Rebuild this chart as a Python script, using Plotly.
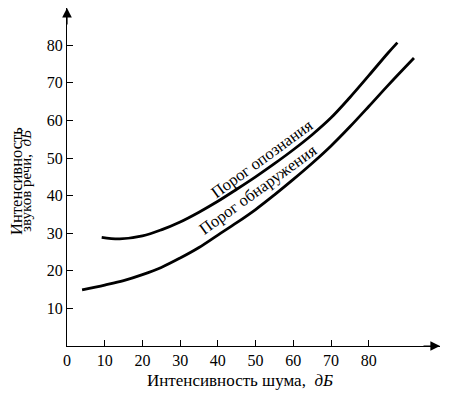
import plotly.graph_objects as go

# Data
upper_x = [9.2, 14, 20, 25, 30, 35, 40, 45, 50, 55, 60, 65, 70, 75, 80, 85, 87.6]
upper_y = [28.9, 28.5, 29.3, 30.9, 33.0, 35.6, 38.5, 41.7, 45.0, 48.5, 52.2, 56.2, 60.7, 66.1, 71.9, 77.8, 80.7]
lower_x = [4, 10, 15, 20, 25, 30, 35, 40, 45, 50, 55, 60, 65, 70, 75, 80, 85, 92]
lower_y = [14.9, 16.2, 17.4, 19.0, 20.9, 23.4, 26.2, 29.5, 32.8, 36.3, 40.2, 44.3, 48.6, 53.2, 58.3, 63.7, 69.2, 76.6]
x_ticks = [0, 10, 20, 30, 40, 50, 60, 70, 80]
y_ticks = [10, 20, 30, 40, 50, 60, 70, 80]
upper_label = "Порог опознания"
lower_label = "Порог обнаружения"
x_title = "Интенсивность шума,  <i>дБ</i>"
y_title_1 = "Интенсивность"
y_title_2 = "звуков речи,  <i>дБ</i>"

FONT = "Liberation Serif"
XMAX, YMAX = 98.9, 89.9

fig = go.Figure()
for xs, ys in ((upper_x, upper_y), (lower_x, lower_y)):
    fig.add_trace(go.Scatter(x=xs, y=ys, mode="lines",
                             line=dict(color="black", width=2.8, shape="spline", smoothing=1.0),
                             showlegend=False, hoverinfo="skip"))

axis_common = dict(ticks="inside", ticklen=6, tickwidth=1, tickcolor="black",
                   showline=True, linecolor="black", linewidth=1.2, showgrid=False, zeroline=False,
                   tickfont=dict(family=FONT, size=16), automargin=False)

fig.update_layout(
    width=441, height=390,
    margin=dict(l=59, r=9, t=0, b=52),
    paper_bgcolor="white", plot_bgcolor="white",
    font=dict(family=FONT, size=16, color="black"),
    xaxis=dict(range=[0, XMAX], tickvals=x_ticks, ticktext=[str(v) for v in x_ticks], **axis_common),
    yaxis=dict(range=[0, YMAX], tickvals=y_ticks, ticktext=[str(v) for v in y_ticks], **axis_common),
)

# axis arrowheads
fig.add_annotation(x=XMAX, y=0, xref="x", yref="y", ax=-18, ay=0, text="", showarrow=True,
                   arrowhead=2, arrowsize=1.6, arrowwidth=1.2, arrowcolor="black")
fig.add_annotation(x=0, y=YMAX, xref="x", yref="y", ax=0, ay=18, text="", showarrow=True,
                   arrowhead=2, arrowsize=1.6, arrowwidth=1.2, arrowcolor="black")

# curve labels
fig.add_annotation(x=51.7, y=50.0, xref="x", yref="y", text=upper_label, showarrow=False,
                   textangle=-36, font=dict(family=FONT, size=16.5))
fig.add_annotation(x=50.7, y=41.5, xref="x", yref="y", text=lower_label, showarrow=False,
                   textangle=-36, font=dict(family=FONT, size=16.5))

# axis titles
fig.add_annotation(x=0.464, y=0, xref="paper", yref="paper", xanchor="center", yanchor="middle",
                   yshift=-34, text=x_title, showarrow=False, font=dict(family=FONT, size=17))
fig.add_annotation(x=0, y=0.487, xref="paper", yref="paper", xanchor="center", yanchor="middle",
                   xshift=-50.5, text=y_title_1, showarrow=False, textangle=-90,
                   font=dict(family=FONT, size=16.5))
fig.add_annotation(x=0, y=0.487, xref="paper", yref="paper", xanchor="center", yanchor="middle",
                   xshift=-40.5, text=y_title_2, showarrow=False, textangle=-90,
                   font=dict(family=FONT, size=15))

fig.write_html("out.html")
